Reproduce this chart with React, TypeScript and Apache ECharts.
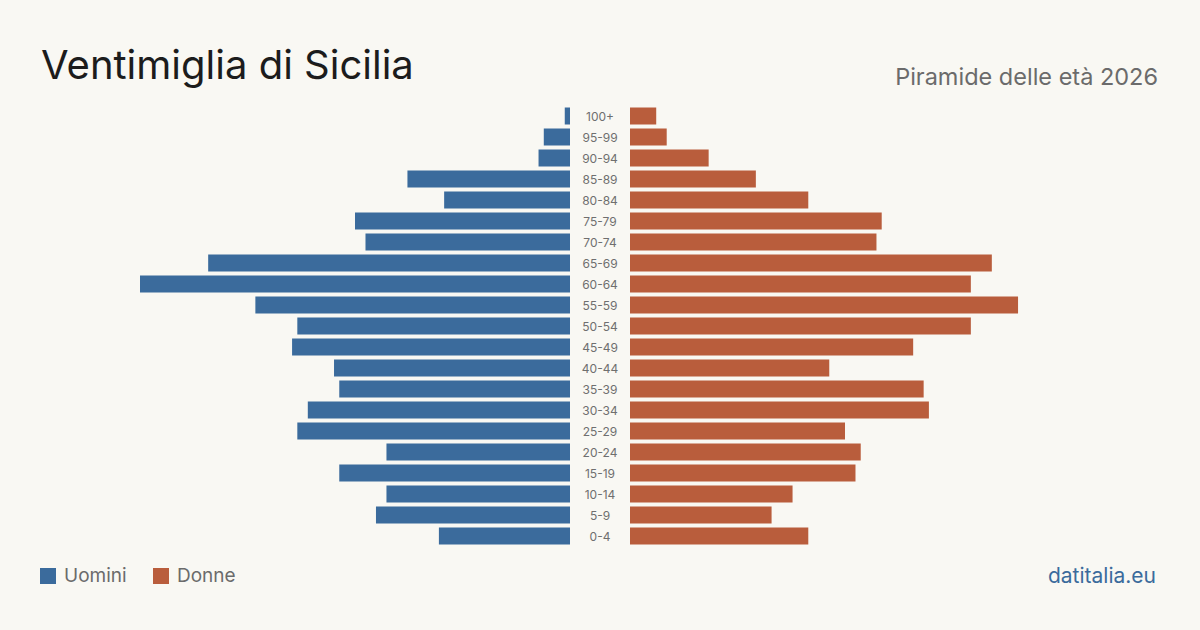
import React, { useEffect, useRef } from "react";
import * as echarts from "echarts";

// Age classes, from oldest (top) to youngest (bottom)
const ageClasses = [
  "100+", "95-99", "90-94", "85-89", "80-84", "75-79", "70-74", "65-69",
  "60-64", "55-59", "50-54", "45-49", "40-44", "35-39", "30-34", "25-29",
  "20-24", "15-19", "10-14", "5-9", "0-4",
];

// Residents per age class
const men = [1, 5, 6, 31, 24, 41, 39, 69, 82, 60, 52, 53, 45, 44, 50, 52, 35, 44, 35, 37, 25];
const women = [5, 7, 15, 24, 34, 48, 47, 69, 65, 74, 65, 54, 38, 56, 57, 41, 44, 43, 31, 27, 34];

const BLUE = "#3b6b9c";
const ORANGE = "#b95d3c";
const BG = "#f9f8f3";
const FONT = "Inter, 'Noto Sans', sans-serif";
const AXIS_MAX = 82;

export default function App() {
  const ref = useRef<HTMLDivElement>(null);

  useEffect(() => {
    if (!ref.current) return;
    const chart = echarts.init(ref.current, undefined, { renderer: "svg" });
    const top = 105.5;
    const height = 441;
    chart.setOption({
      animation: false,
      backgroundColor: BG,
      textStyle: { fontFamily: FONT },
      grid: [
        { left: 140, width: 430, top, height },
        { left: 630, width: 430, top, height },
      ],
      xAxis: [
        { gridIndex: 0, type: "value", inverse: true, min: 0, max: AXIS_MAX, show: false },
        { gridIndex: 1, type: "value", min: 0, max: AXIS_MAX, show: false },
      ],
      yAxis: [
        {
          gridIndex: 0, type: "category", inverse: true, data: ageClasses,
          axisLine: { show: false }, axisTick: { show: false }, axisLabel: { show: false },
        },
        {
          gridIndex: 1, type: "category", inverse: true, data: ageClasses,
          axisLine: { show: false }, axisTick: { show: false },
          axisLabel: {
            align: "center", margin: 30, color: "#6f6f6f",
            fontSize: 12, fontFamily: FONT,
          },
        },
      ],
      series: [
        {
          name: "Uomini", type: "bar", xAxisIndex: 0, yAxisIndex: 0,
          data: men, barWidth: 17, itemStyle: { color: BLUE },
        },
        {
          name: "Donne", type: "bar", xAxisIndex: 1, yAxisIndex: 1,
          data: women, barWidth: 17, itemStyle: { color: ORANGE },
        },
      ],
      graphic: [
        {
          type: "text", left: 41, top: 44,
          style: { text: "Ventimiglia di Sicilia", fontSize: 40, fill: "#1c1c1c", fontFamily: FONT },
        },
        {
          type: "text", right: 42, top: 64,
          style: { text: "Piramide delle età 2026", fontSize: 23.5, fill: "#6b6b6b", fontFamily: FONT },
        },
        { type: "rect", shape: { x: 40, y: 568, width: 16, height: 16 }, style: { fill: BLUE } },
        {
          type: "text", left: 64, top: 566,
          style: { text: "Uomini", fontSize: 19, fill: "#6b6b6b", fontFamily: FONT },
        },
        { type: "rect", shape: { x: 153, y: 568, width: 16, height: 16 }, style: { fill: ORANGE } },
        {
          type: "text", left: 177, top: 566,
          style: { text: "Donne", fontSize: 19, fill: "#6b6b6b", fontFamily: FONT },
        },
        {
          type: "text", right: 44, top: 565,
          style: { text: "datitalia.eu", fontSize: 21, fill: BLUE, fontFamily: FONT },
        },
      ],
    });
    return () => chart.dispose();
  }, []);

  return (
    <div
      ref={ref}
      style={{ position: "fixed", left: 0, top: 0, width: 1200, height: 630, background: BG }}
    />
  );
}
